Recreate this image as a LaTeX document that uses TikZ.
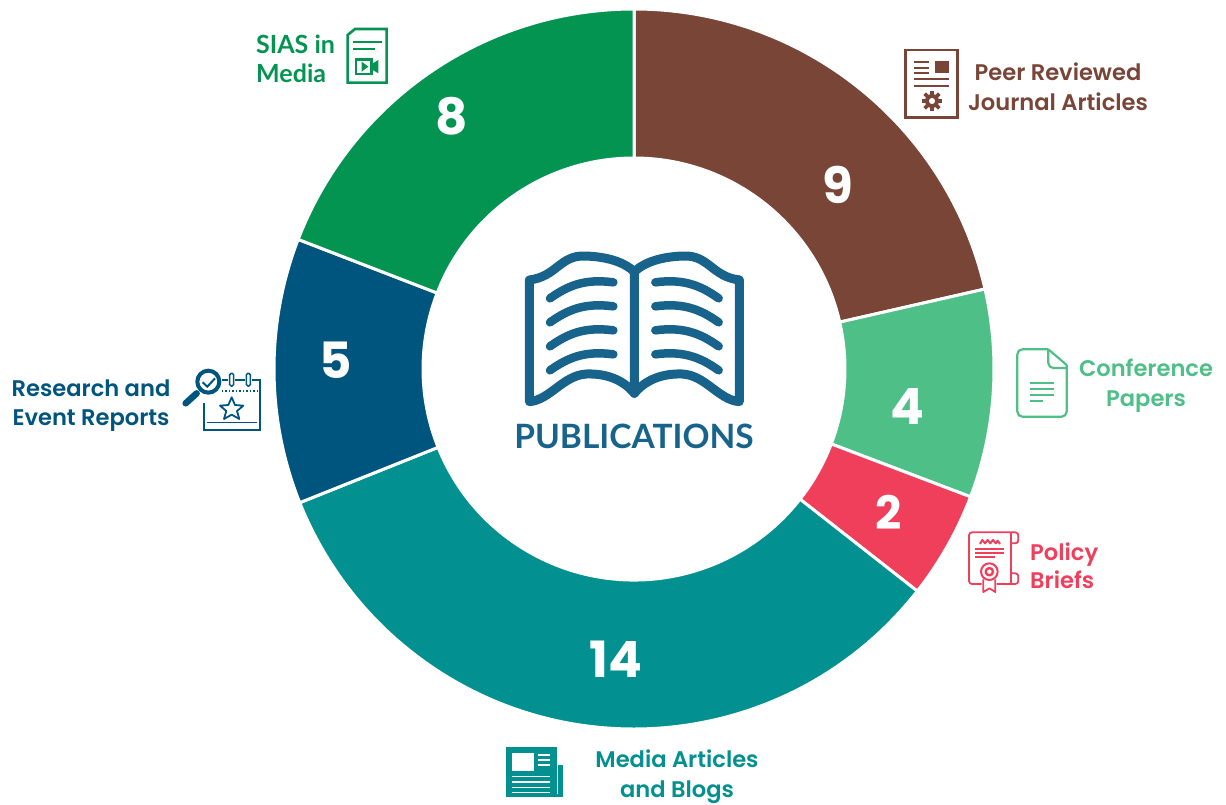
\documentclass[tikz,border=0pt]{standalone}
\usepackage{fontspec}
\setmainfont{Lato}
\newfontfamily\popf{Poppins}[UprightFont=* SemiBold,BoldFont=* Bold]
\definecolor{cbrown}{HTML}{784536}
\definecolor{clight}{HTML}{4FBF88}
\definecolor{cred}{HTML}{F03F5A}
\definecolor{cteal}{HTML}{039090}
\definecolor{cblue}{HTML}{00557F}
\definecolor{cgreen}{HTML}{049452}
\definecolor{cbook}{HTML}{17638C}
\tikzset{
 wedge/.style={draw=white,line width=3pt,line join=miter},
 numlab/.style={text=white,font=\popf\bfseries\fontsize{50}{50}\selectfont,inner sep=0pt},
 lab/.style={font=\popf\fontsize{22.6}{30}\selectfont,align=center,inner sep=0pt},
 lablato/.style={font=\bfseries\fontsize{25}{29}\selectfont,align=left,inner sep=0pt},
 zoomed/.style={shift={#1},x=0.33333pt,y=-0.33333pt},
}
\newcommand{\ringseg}[3]{%
 \fill[#1,wedge] ({634+360*cos(#2)},{369-360*sin(#2)}) arc[start angle=-#2,end angle=-#3,radius=360]
   -- ({634+211*cos(#3)},{369-211*sin(#3)}) arc[start angle=-#3,end angle=-#2,radius=211] -- cycle;}
\begin{document}
\begin{tikzpicture}[x=1pt,y=-1pt]
\useasboundingbox (0,0) rectangle (1226,805);
\ringseg{cbrown}{90}{12.84}
\ringseg{clight}{12.84}{-20.8}
\ringseg{cred}{-20.8}{-38.1}
\ringseg{cteal}{-38.1}{-158.2}
\ringseg{cblue}{-158.2}{-201.1}
\ringseg{cgreen}{-201.1}{-270}
\node[numlab] (n9) at (838,185) {9};
\node[numlab] (n4) at (907,406) {4};
\node[numlab,font=\popf\bfseries\fontsize{46}{46}\selectfont] (n2) at (889,512) {2};
\node[numlab] (n14) at (616,659) {14};
\node[numlab] (n5) at (336,360) {5};
\node[numlab] (n8) at (452,116) {8};
% book
\begin{scope}[zoomed={(500,230)},draw=cbook,line width=9pt,line cap=round,line join=round]
\draw (88,150) .. controls (170,140) and (180,75) .. (255,78) .. controls (320,80) and (370,95) .. (403,125) -- (403,490)
  .. controls (370,450) and (320,430) .. (260,432) .. controls (190,435) and (150,510) .. (88,515) -- cycle;
\draw (718,150) .. controls (636,140) and (626,75) .. (551,78) .. controls (486,80) and (436,95) .. (403,125);
\draw (403,490) .. controls (436,450) and (486,430) .. (546,432) .. controls (616,435) and (656,510) .. (718,515) -- (718,150);
\foreach \d in {0,72,144,216}{
 \draw[line width=8.5pt] (150,{205+\d}) .. controls (200,{170+\d}) and (250,{145+\d}) .. (340,{157+\d});
 \draw[line width=8.5pt] (656,{205+\d}) .. controls (606,{170+\d}) and (556,{145+\d}) .. (466,{157+\d});
}
\end{scope}
\node[font=\bfseries\fontsize{33.5}{34}\selectfont,text=cbook,inner sep=0pt] (pub) at (634,436) {PUBLICATIONS};
% labels
\node[lab,text=cbrown] (ljournal) at (1058,87) {Peer Reviewed\\Journal Articles};
\node[lab,text=clight] (lconf) at (1146,386) {Conference\\Papers};
\node[lab,text=cred,align=left,anchor=west,font=\popf\fontsize{22.6}{28}\selectfont] (lpolicy) at (1030,566) {Policy\\Briefs};
\node[lab,text=cteal] (lmedia) at (677,777) {Media Articles\\and Blogs};
\node[lab,text=cblue,font=\popf\fontsize{22.6}{29}\selectfont] (lresearch) at (91,406) {Research and\\Event Reports};
\node[lablato,text=cgreen,anchor=west] (lsias) at (256,59) {SIAS in\\Media};
% journal icon
\begin{scope}[zoomed={(890,30)},draw=cbrown,fill=cbrown]
\draw[line width=2.6pt] (47,60) rectangle (202,262);
\foreach \y in {97,113,129}{\draw[line width=2pt] (72,\y) -- (118,\y);}
\fill (135,92) rectangle (178,130);
\foreach \y in {146,167}{\draw[line width=2.2pt] (72,\y) -- (178,\y);}
\draw[line width=4pt] (126,213) circle[radius=16];
\foreach \a in {0,45,...,315}{\draw[line width=3.6pt] ({126+15*cos(\a)},{213+15*sin(\a)}) -- ({126+31*cos(\a)},{213+31*sin(\a)});}
\end{scope}
% sias icon
\begin{scope}[zoomed={(240,10)},draw=cgreen,fill=cgreen]
\draw[line width=2.6pt] (323,75) -- (345,57) -- (440,57) -- (440,218) -- (323,218) -- cycle;
\draw[line width=2pt] (340,97) -- (425,97) (340,118) -- (405,118);
\draw[line width=2.4pt] (348,148) rectangle (395,192);
\fill (365,155) -- (385,170) -- (365,185) -- cycle;
\fill (395,162) -- (415,150) -- (415,190) -- (395,178) -- cycle;
\end{scope}
% research icon
\begin{scope}[zoomed={(0,350)},draw=cblue,fill=cblue]
\draw[line width=1.5pt] (612,160) -- (612,240) -- (780,240) -- (780,90) -- (755,90) (735,90) -- (705,90) (685,90) -- (665,90);
\draw[line width=1.5pt,rounded corners=1.5pt] (689,70) rectangle (701,108);
\draw[line width=1.5pt,rounded corners=1.5pt] (739,70) rectangle (751,108);
\draw[line width=1.5pt,dotted] (665,123) -- (780,123);
\draw[line width=1.8pt,line join=round] (695,142) -- (705,165) -- (730,167) -- (711,183) -- (718,207) -- (695,194) -- (672,207) -- (679,183) -- (660,167) -- (685,165) -- cycle;
\draw[line width=1.5pt] (622,218) -- (770,218);
\fill[white] (625,95) circle[radius=32];
\draw[line width=4pt] (625,95) circle[radius=33];
\draw[line width=6.5pt,line cap=round] (590,130) -- (557,160);
\draw[line width=2pt] (608,97) -- (622,110) -- (645,85);
\end{scope}
% conference icon
\begin{scope}[zoomed={(1000,330)},draw=clight,line width=2.2pt,line join=round]
\draw[rounded corners=5pt] (145,58) -- (52,58) -- (52,260) -- (200,260) -- (200,105);
\draw (200,105) -- (145,58);
\draw[rounded corners=5pt] (145,58) -- (145,114) -- (200,114);
\draw (90,160) -- (162,160) (90,178) -- (162,178) (90,196) -- (162,196) (90,214) -- (130,214);
\end{scope}
% policy icon
\begin{scope}[zoomed={(950,520)},draw=cred,line width=1.8pt,line join=round]
\draw[rounded corners=3pt] (95,192) -- (57,192) -- (57,37) -- (205,37) -- (205,70) -- (184,70);
\draw (184,37) -- (184,192);
\draw[rounded corners=3pt] (184,160) -- (205,160) -- (205,192) -- (140,192);
\draw[line width=2pt] (90,72) -- (97,60) -- (105,70) -- (113,60) -- (121,70) -- (129,60) -- (137,70) -- (143,62) -- (150,72);
\draw[line width=2pt] (75,87) -- (162,87) (75,98) -- (162,98) (75,110) -- (135,110);
\fill[white] (118,155) circle[radius=25];
\draw[line width=2pt] (118,155) circle[radius=25];
\draw[line width=2.4pt] (118,155) circle[radius=11];
\draw (100,178) -- (100,216) -- (118,205) -- (136,216) -- (136,178);
\end{scope}
% media icon
\begin{scope}[zoomed={(490,735)},draw=cteal,fill=cteal]
\fill (47,35) rectangle (200,187);
\fill (205,90) rectangle (218,187);
\fill (190,178) rectangle (218,187);
\fill[white] (65,55) rectangle (133,108);
\draw[white,line width=1.6pt] (143,60) -- (180,60) (143,75) -- (180,75) (143,90) -- (180,90) (65,125) -- (180,125) (65,141) -- (180,141) (65,157) -- (180,157) (65,172) -- (180,172);
\end{scope}
\end{tikzpicture}
\end{document}
